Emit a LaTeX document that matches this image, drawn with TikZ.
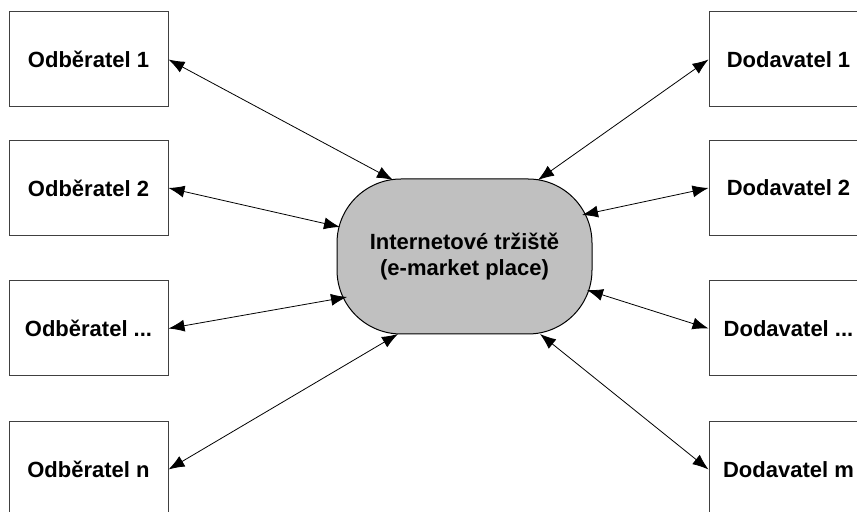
\documentclass[tikz,border=0pt]{standalone}
\usepackage{fontspec}
\setmainfont{Liberation Sans}
\usepackage{tikz}
\usetikzlibrary{arrows.meta}
\definecolor{trhgray}{RGB}{192,192,192}
\newcommand\tecky{...}
\tikzset{
  box/.style={draw=black!75,line width=0.5pt,minimum width=79.5pt,minimum height=47.5pt,inner sep=0pt,font=\fontsize{11}{13}\selectfont\bfseries},
  market/.style={draw=black,line width=0.5pt,fill=trhgray,minimum width=127.5pt,minimum height=77.5pt,rounded corners=32pt,align=center,font=\fontsize{11}{13}\selectfont\bfseries},
  link/.style={{Latex[length=8pt,width=6pt]}-{Latex[length=8pt,width=6pt]},line width=0.4pt}
}
\begin{document}
\begin{tikzpicture}[x=0.5pt,y=-0.5pt]
\useasboundingbox (0,0) rectangle (857,512);
\node[market] (mp) at (464.5,256.5) {Internetové tržiště\\(e-market place)};
\foreach \y/\t [count=\i] in {59.5/1,188/2,328.5/\tecky,469.5/n}
  \node[box] (o\i) at (88.5,\y) {Odběratel \t};
\foreach \y/\t [count=\i] in {59.5/1,188/2,328.5/\tecky,469.5/m}
  \node[box] (d\i) at (788.5,\y) {Dodavatel \t};
\coordinate (mpo1) at (393,180);
\coordinate (mpo2) at (340,227);
\coordinate (mpo3) at (347,297);
\coordinate (mpo4) at (398,334);
\coordinate (mpd1) at (538,180);
\coordinate (mpd2) at (582,215);
\coordinate (mpd3) at (587,290);
\coordinate (mpd4) at (540,334);
\foreach \i in {1,...,4}{
  \draw[link] (o\i.east) -- (mpo\i);
  \draw[link] (d\i.west) -- (mpd\i);
}
\end{tikzpicture}
\end{document}
